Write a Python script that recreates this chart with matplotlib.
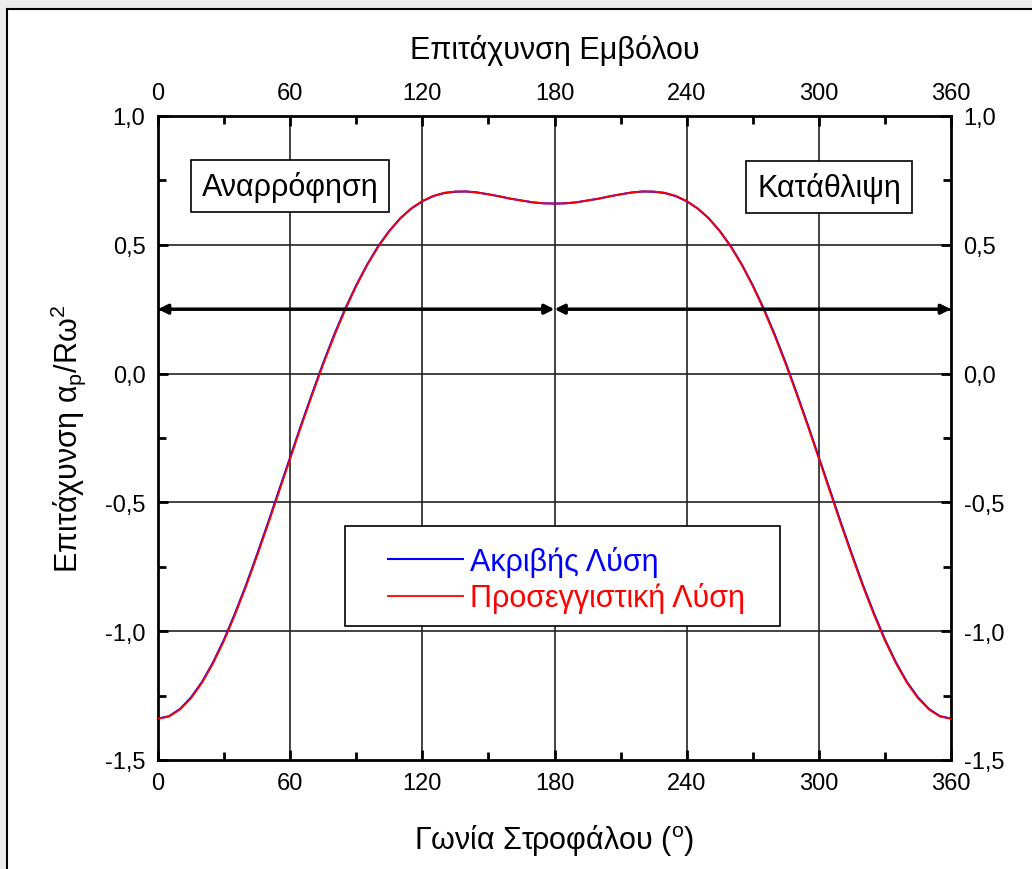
import matplotlib
matplotlib.use("Agg")
import matplotlib.pyplot as plt
import matplotlib.patches as patches
from matplotlib.ticker import MultipleLocator

plt.rcParams['font.family'] = ['Liberation Sans', 'DejaVu Sans']
plt.rcParams['mathtext.fontset'] = 'custom'
plt.rcParams['mathtext.rm'] = 'Liberation Sans'
plt.rcParams['mathtext.default'] = 'regular'

# Γωνία στροφάλου (μοίρες)
gonia = list(range(0, 365, 5))

# Προσεγγιστική λύση (τιμές από το διάγραμμα)
proseggistiki = [
    -1.340, -1.331, -1.304, -1.260, -1.200, -1.125, -1.036, -0.935, -0.825, -0.707,
    -0.584, -0.457, -0.330, -0.204, -0.082, 0.036, 0.146, 0.248, 0.340, 0.422,
    0.493, 0.553, 0.603, 0.641, 0.670, 0.690, 0.702, 0.707, 0.707, 0.703,
    0.696, 0.688, 0.679, 0.672, 0.665, 0.661, 0.660,
    0.661, 0.665, 0.672, 0.679, 0.688, 0.696, 0.703, 0.707, 0.707, 0.702,
    0.690, 0.670, 0.641, 0.603, 0.553, 0.493, 0.422, 0.340, 0.248, 0.146,
    0.036, -0.082, -0.204, -0.330, -0.457, -0.584, -0.707, -0.825, -0.935, -1.036,
    -1.125, -1.200, -1.260, -1.304, -1.331, -1.340,
]

# Ακριβής λύση
akrivis = [
    -1.339, -1.330, -1.302, -1.257, -1.197, -1.121, -1.032, -0.930, -0.820, -0.701,
    -0.578, -0.451, -0.325, -0.199, -0.077, 0.041, 0.151, 0.252, 0.343, 0.424,
    0.495, 0.554, 0.603, 0.641, 0.669, 0.689, 0.701, 0.706, 0.707, 0.703,
    0.696, 0.688, 0.679, 0.672, 0.665, 0.661, 0.660,
    0.661, 0.665, 0.672, 0.679, 0.688, 0.696, 0.703, 0.707, 0.706, 0.701,
    0.689, 0.669, 0.641, 0.603, 0.554, 0.495, 0.424, 0.343, 0.252, 0.151,
    0.041, -0.077, -0.199, -0.325, -0.451, -0.578, -0.701, -0.820, -0.930, -1.032,
    -1.121, -1.197, -1.257, -1.302, -1.330, -1.339,
]

x_ticks = [0, 60, 120, 180, 240, 300, 360]
y_ticks = [1.0, 0.5, 0.0, -0.5, -1.0, -1.5]
y_labels = ['1,0', '0,5', '0,0', '-0,5', '-1,0', '-1,5']

fig = plt.figure(figsize=(10.32, 8.7), dpi=100)
fig.patch.set_facecolor('#ececec')
fig.add_artist(patches.Rectangle((7 / 1032, -0.1), 1.2, 1 - 10 / 870 + 0.1,
                                 transform=fig.transFigure, facecolor='white',
                                 edgecolor='black', lw=1.5, zorder=-10))

ax = fig.add_axes([158 / 1032, 109 / 870, 793 / 1032, 644 / 870])
ax.set_xlim(0, 360)
ax.set_ylim(-1.5, 1.0)

# Γραμμές πλέγματος
for xv in x_ticks[1:-1]:
    ax.axvline(xv, color='#222222', lw=1.2, zorder=1)
for yv in y_ticks[1:-1]:
    ax.axhline(yv, color='#222222', lw=1.2, zorder=1)

ax.plot(gonia, akrivis, color='blue', lw=1.5, zorder=3, label='Ακριβής Λύση')
ax.plot(gonia, proseggistiki, color='red', lw=1.3, zorder=4, label='Προσεγγιστική Λύση')

# Βέλη
for a, b in [(0, 180), (180, 360)]:
    ax.annotate('', xy=(a, 0.25), xytext=(b, 0.25),
                arrowprops=dict(arrowstyle='<|-|>', lw=2.5, color='black',
                                mutation_scale=14, shrinkA=0, shrinkB=0), zorder=5)

box = dict(boxstyle='square,pad=0.35', fc='white', ec='black', lw=1.2)
ax.text(60, 0.728, 'Αναρρόφηση', fontsize=22, ha='center', va='center', bbox=box, zorder=6)
ax.text(304.6, 0.724, 'Κατάθλιψη', fontsize=22, ha='center', va='center', bbox=box, zorder=6)

# Υπόμνημα
ax.add_patch(patches.Rectangle((0.236, 0.208), 0.548, 0.155, transform=ax.transAxes,
                               facecolor='white', edgecolor='black', lw=1.2, zorder=6))
leg = ax.legend(loc='center left', bbox_to_anchor=(0.290, 0.280), frameon=False,
                fontsize=22, handlelength=2.45, handletextpad=0.25, labelspacing=0.18,
                borderpad=0, borderaxespad=0, labelcolor='linecolor')
leg.set_zorder(7)

for s in ax.spines.values():
    s.set_linewidth(2)

ax.set_xticks(x_ticks)
ax.set_xticklabels([str(v) for v in x_ticks])
ax.set_yticks(y_ticks)
ax.set_yticklabels(y_labels)
ax.xaxis.set_minor_locator(MultipleLocator(30))
ax.yaxis.set_minor_locator(MultipleLocator(0.25))
ax.tick_params(which='both', direction='in', top=True, right=True, width=2,
               labeltop=True, labelright=True, labelsize=17, pad=9)
ax.tick_params(which='major', length=7)
ax.tick_params(which='minor', length=6)

ax.set_xlabel('Γωνία Στροφάλου ($^{o}$)', fontsize=22, labelpad=20)
ax.set_ylabel('Επιτάχυνση α$_{p}$/Rω$^{2}$', fontsize=22, labelpad=12)
ax.set_title('Επιτάχυνση Εμβόλου', fontsize=22, pad=42)

fig.savefig('out.png', dpi=100, facecolor=fig.get_facecolor())
